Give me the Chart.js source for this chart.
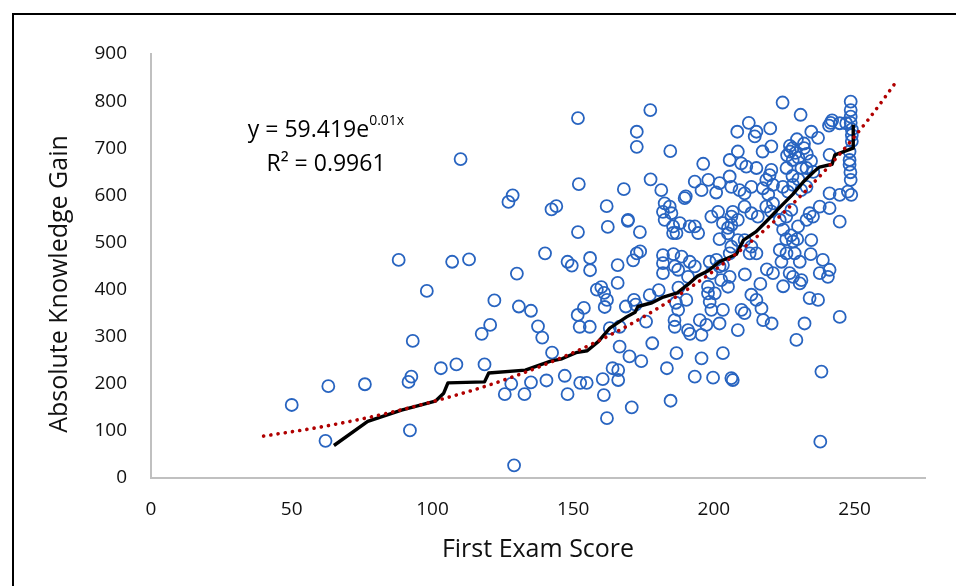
<!DOCTYPE html>
<html>
<head>
<meta charset="utf-8">
<title>Absolute Knowledge Gain vs First Exam Score</title>
<script src="https://cdn.jsdelivr.net/npm/chart.js@4.4.1/dist/chart.umd.min.js"></script>
<style>
  html, body { margin: 0; padding: 0; background: #fff; overflow: hidden; }
  #wrap { position: relative; width: 956px; height: 586px; }
  #frame { position: absolute; left: 12px; top: 13px; width: 970px; height: 600px;
           border: 2px solid #000; box-sizing: border-box; pointer-events: none; }
  canvas { position: absolute; left: 0; top: 0; }
</style>
</head>
<body>
<div id="wrap">
  <canvas id="chart" width="956" height="586"></canvas>
  <div id="frame"></div>
</div>
<script>
'use strict';

// ── students: first exam score vs absolute knowledge gain ──
const scoreX = [
  50, 63, 62, 76, 88, 92, 93, 91.5, 92.5, 98, 103, 108.5, 110, 107, 113, 118.5, 117.5, 120.5, 122, 127,
  128.5, 130, 130.7, 135, 128, 125.7, 132.7, 135, 129, 137.5, 139, 140, 140.5, 142.5, 142.3, 144, 147, 148, 148, 149.5,
  151.7, 152, 151.7, 151.6, 152.3, 153.8, 155.9, 152.5, 154.8, 156, 156, 160.5, 160.9, 162, 161.9, 162.3, 158.4, 160, 161, 162,
  161.2, 163, 165.8, 165.8, 164, 166, 166, 166.5, 166.5, 170, 168, 169.4, 170.8, 172.6, 173.8, 171.3, 172.6, 172.6, 173.7, 172.2,
  175.9, 174.2, 178.1, 177.4, 177.5, 181.3, 184.5, 183.3, 184.6, 177.2, 168.7, 171.6, 180.4, 186, 169.5, 182.5, 184.3, 181.9, 184.9, 182.5,
  185.5, 185.5, 186.7, 187.9, 189.6, 191.4, 193.2, 194.4, 181.9, 181.9, 181.9, 186.1, 187.3, 188.5, 191.4, 193.2, 190.8, 198.5, 200.9, 202,
  203.2, 205.6, 206.2, 208.5, 210.9, 212.7, 215.1, 213.3, 199.1, 201.5, 206.2, 206.7, 203.2, 206.2, 208.5, 210.9, 213.3, 215.6, 218.6, 221,
  223.4, 225.7, 227.5, 224.6, 229.9, 232.9, 234, 234.6, 228.1, 223.4, 225.8, 228.7, 230.5, 226.9, 228.1, 230.5, 231.1, 238.7, 241.1, 237.6,
  240.5, 244.7, 232.2, 229.3, 238.2, 237.8, 234, 237, 213.3, 215.1, 216.9, 209.8, 210.9, 217.5, 220.5, 202.6, 205, 205.6, 199.1, 197.9,
  197.9, 200.3, 203.2, 199.1, 198.5, 195, 197.3, 202, 195.6, 190.8, 208.5, 203.2, 195.6, 193.2, 199.7, 206.2, 206.7, 186.7, 186.1, 187.3,
  190.2, 224.4, 230.8, 248.6, 248.6, 248.6, 248.6, 241.5, 244.7, 247, 212.4, 215.1, 214.5, 220, 208.3, 234.6, 237, 229.5, 226, 227,
  228, 229, 230, 228, 227, 232, 233, 217.3, 220.4, 196.2, 205.6, 208.5, 209.7, 211.5, 215.1, 220.4, 219.8, 225.8, 231.1, 232.9,
  235.3, 241.1, 248.2, 248.2, 248.2, 248.6, 193.2, 195.6, 198, 202, 205.6, 206.2, 209.1, 210.9, 213.3, 217.4, 218.6, 221, 224.5, 226.3,
  228.1, 231, 232.9, 241.1, 244.7, 247.6, 248.8, 244.7, 241.1, 237.6, 235.2, 190, 200.8, 202, 205, 205, 224.6, 225.7, 227.4, 229.6,
  227.9, 230, 232, 234.5, 234.4, 240.9, 242, 249, 249, 249, 248.5, 211, 216.5, 218.8, 221, 219.3, 220.3, 224, 187.4, 186.5,
  191.5, 185.6
];
const gainY = [
  155, 195, 79, 199, 463, 101, 291, 204, 215, 397, 233, 241, 677, 459, 464, 241, 306, 325, 377, 586,
  600, 434, 364, 355, 200, 178, 178, 203, 27, 322, 298, 477, 207, 266, 570, 577, 217, 178, 459, 451,
  764, 624, 522, 346, 321, 361, 321, 202, 202, 467, 441, 210, 176, 127, 577, 533, 400, 405, 393, 378,
  363, 318, 452, 414, 233, 229, 208, 321, 279, 258, 613, 546, 150, 477, 481, 462, 703, 735, 522, 368,
  332, 248, 286, 781, 634, 611, 694, 233, 164, 388, 364, 378, 399, 335, 548, 583, 576, 565, 562, 548,
  534, 520, 520, 541, 594, 534, 534, 520, 473, 456, 435, 449, 442, 470, 459, 449, 427, 459, 463, 449,
  452, 477, 491, 505, 505, 477, 477, 491, 555, 565, 555, 565, 541, 537, 548, 576, 562, 555, 576, 583,
  548, 555, 569, 527, 534, 548, 562, 505, 502, 484, 477, 477, 459, 435, 427, 413, 420, 463, 442, 435,
  427, 342, 328, 293, 226, 77, 382, 378, 389, 378, 360, 357, 350, 335, 328, 420, 406, 427, 435, 406,
  392, 392, 357, 357, 374, 335, 325, 328, 304, 314, 314, 265, 254, 215, 213, 212, 208, 265, 321, 357,
  378, 797, 771, 799, 781, 767, 754, 754, 753, 753, 754, 735, 725, 742, 735, 735, 722, 719, 685, 693,
  700, 690, 680, 675, 705, 700, 688, 693, 704, 667, 675, 693, 668, 661, 658, 654, 643, 658, 658, 658,
  650, 686, 693, 675, 665, 633, 629, 611, 633, 626, 640, 618, 611, 604, 618, 615, 633, 622, 618, 608,
  622, 611, 618, 604, 601, 608, 601, 544, 573, 576, 555, 598, 606, 507, 531, 519, 407, 507, 515, 507,
  641, 634, 710, 673, 475, 748, 759, 740, 728, 715, 649, 432, 412, 443, 435, 602, 566, 459, 404, 372,
  306, 475
];

// ── black stepped line ──
const runX = [65, 77, 89, 101, 104, 105.5, 118.5, 120, 133, 142, 146, 151, 155, 159, 163, 169, 172, 173, 178, 182,
  187, 191, 194, 198, 202, 208, 210.5, 215, 219, 223.5, 228, 232, 235.5, 237.5, 242, 243, 248.5, 249.5, 249.5];
const runY = [69, 120, 144, 163, 180, 202, 204, 223, 229, 248, 253, 266, 270, 290, 318, 342, 352, 364, 372, 384,
  393, 412, 428, 440, 459, 475, 505, 523, 547, 575, 602, 630, 650, 660, 666, 686, 698, 700, 750];

// ── dotted exponential trendline, y = 59.419e^0.01x ──
const trendX = [40, 60, 80, 100, 120, 140, 160, 180, 200, 220, 240, 255, 265];
const trendY = [89, 108, 132, 162, 197, 241, 294, 360, 440, 537, 656, 762, 843];

const xTickStep = 50;
const yTickStep = 100;
const xTitle = 'First Exam Score';
const yTitle = 'Absolute Knowledge Gain';
const eqMain = 'y = 59.419e';
const eqExp = '0.01x';
const eqR2 = 'R\u00b2 = 0.9961';

const FONT = '"Open Sans", "DejaVu Sans", sans-serif';

const toPts = (xs, ys) => xs.map((x, i) => ({ x: x, y: ys[i] }));

// equation label + y title (Excel puts the y title a bit below the plot centre)
const chartText = {
  id: 'chartText',
  afterDraw(chart) {
    const ctx = chart.ctx;
    const cx = 326;
    ctx.save();
    ctx.fillStyle = '#000';
    ctx.textBaseline = 'alphabetic';
    ctx.font = '23px ' + FONT;
    const w1 = ctx.measureText(eqMain).width;
    ctx.font = '14px ' + FONT;
    const w2 = ctx.measureText(eqExp).width;
    const x0 = cx - (w1 + w2) / 2;
    ctx.textAlign = 'left';
    ctx.font = '23px ' + FONT;
    ctx.fillText(eqMain, x0, 137);
    ctx.font = '14px ' + FONT;
    ctx.fillText(eqExp, x0 + w1, 125);
    ctx.font = '23px ' + FONT;
    ctx.textAlign = 'center';
    ctx.fillText(eqR2, cx, 171);

    ctx.translate(60, 284);
    ctx.rotate(-Math.PI / 2);
    ctx.font = '25px ' + FONT;
    ctx.fillStyle = '#111';
    ctx.textBaseline = 'middle';
    ctx.fillText(yTitle, 0, 0);
    ctx.restore();
  }
};

new Chart(document.getElementById('chart'), {
  type: 'scatter',
  data: {
    datasets: [
      {
        label: 'Expon. trend',
        data: toPts(trendX, trendY),
        showLine: true,
        borderColor: '#b00000',
        borderWidth: 3.6,
        borderDash: [0.1, 7.2],
        borderCapStyle: 'round',
        cubicInterpolationMode: 'monotone',
        pointRadius: 0,
        fill: false,
        order: 0
      },
      {
        label: 'Running line',
        data: toPts(runX, runY),
        showLine: true,
        borderColor: '#000',
        borderWidth: 3.4,
        borderJoinStyle: 'round',
        pointRadius: 0,
        tension: 0,
        fill: false,
        order: 1
      },
      {
        label: 'Students',
        data: toPts(scoreX, gainY),
        pointStyle: 'circle',
        pointRadius: 6,
        pointBorderWidth: 1.8,
        pointBorderColor: '#2864c0',
        pointBackgroundColor: 'rgba(0,0,0,0)',
        order: 2
      }
    ]
  },
  options: {
    responsive: false,
    animation: false,
    devicePixelRatio: 1,
    layout: { padding: { top: 54, right: 31, left: 0, bottom: 0 } },
    plugins: { legend: { display: false }, tooltip: { enabled: false } },
    scales: {
      x: {
        type: 'linear',
        min: 0,
        max: 275,
        afterBuildTicks: s => { s.ticks = s.ticks.filter(t => t.value % xTickStep === 0); },
        afterFit: s => { s.height = 108; },
        grid: { display: false, drawTicks: false },
        border: { display: true, color: '#c0c0c0', width: 2 },
        ticks: { stepSize: xTickStep, padding: 20, color: '#111', font: { family: FONT, size: 19 } },
        title: { display: true, text: xTitle, color: '#111',
                 font: { family: FONT, size: 25 }, padding: { top: 0, bottom: 21 } }
      },
      y: {
        min: 0,
        max: 900,
        afterFit: s => { s.width = 151; },
        grid: { display: false, drawTicks: false },
        border: { display: true, color: '#c0c0c0', width: 2 },
        ticks: { stepSize: yTickStep, padding: 24, color: '#111', font: { family: FONT, size: 19 } },
        title: { display: false }
      }
    }
  },
  plugins: [chartText]
});
</script>
</body>
</html>
